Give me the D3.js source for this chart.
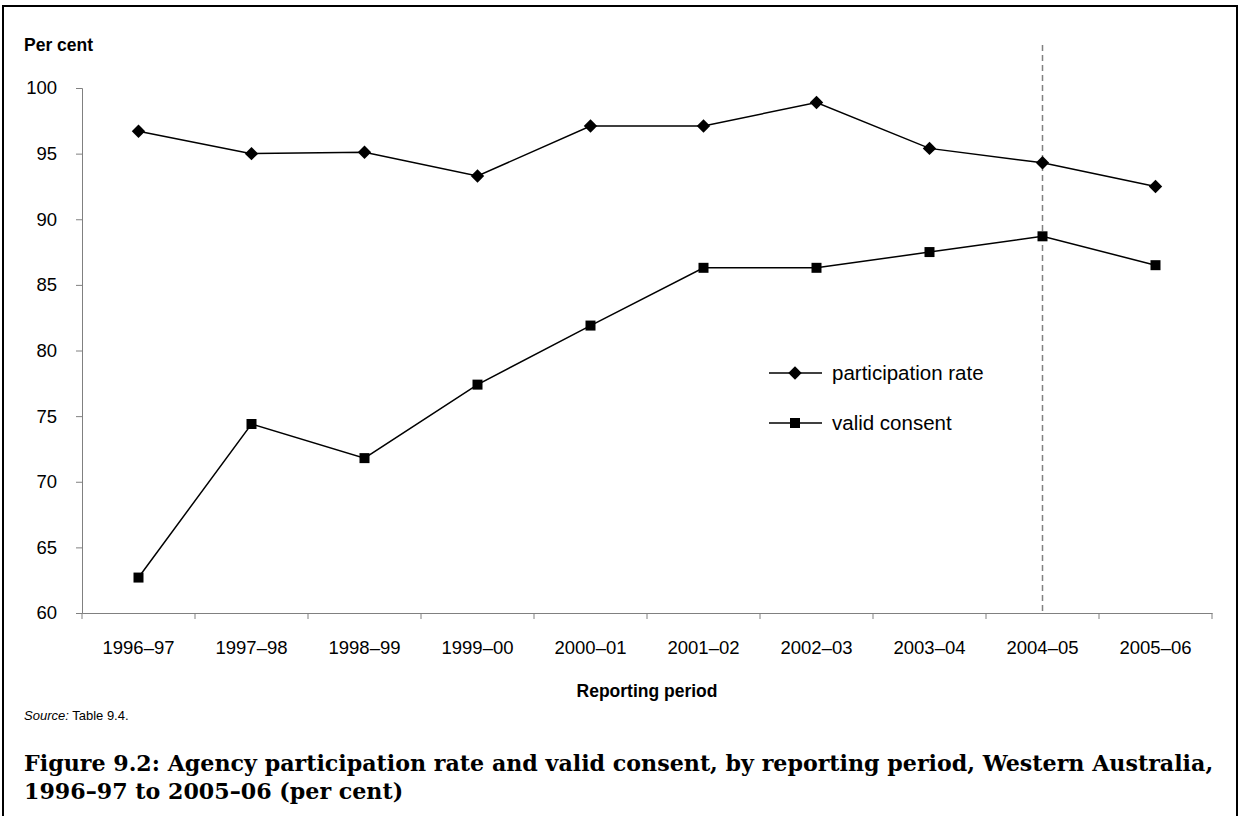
<!DOCTYPE html>
<html>
<head>
<meta charset="utf-8">
<script src="https://cdn.jsdelivr.net/npm/d3@7"></script>
<style>
  html, body { margin: 0; padding: 0; background: #fff; }
  svg { display: block; }
</style>
</head>
<body>
<script>
const categories = ["1996–97","1997–98","1998–99","1999–00","2000–01","2001–02","2002–03","2003–04","2004–05","2005–06"];
const participationRate = [96.7, 95.0, 95.1, 93.3, 97.1, 97.1, 98.9, 95.4, 94.3, 92.5];
const validConsent = [62.7, 74.4, 71.8, 77.4, 81.9, 86.3, 86.3, 87.5, 88.7, 86.5];
const yTicks = [60, 65, 70, 75, 80, 85, 90, 95, 100];
const markedPeriod = "2004–05";
const seriesNames = ["participation rate", "valid consent"];

const W = 1240, H = 816;
const margin = {left: 82, right: 28, top: 88, bottom: 816 - 613};

const svg = d3.select("body").append("svg").attr("width", W).attr("height", H);

// frame
svg.append("path")
  .attr("d", `M3,${H} V6 H1237 V${H}`)
  .attr("fill", "none").attr("stroke", "#000").attr("stroke-width", 2);

const x = d3.scaleBand().domain(categories).range([margin.left, W - margin.right]);
const y = d3.scaleLinear().domain([60, 100]).range([H - margin.bottom, margin.top]);

const font = "Arial, 'Liberation Sans', Helvetica, sans-serif";
const fs = 18.5;

// y axis
const yAxis = svg.append("g").attr("transform", `translate(${margin.left},0)`)
  .call(d3.axisLeft(y).tickValues(yTicks).tickSize(6).tickPadding(19).tickFormat(d3.format("d")));
yAxis.selectAll("path, line").attr("stroke", "#808080");
yAxis.selectAll("text").attr("font-family", font).attr("font-size", fs).attr("fill", "#000");

// x axis
const xAxis = svg.append("g").attr("transform", `translate(0,${y(60)})`)
  .call(d3.axisBottom(x).tickSize(0).tickPadding(28).tickSizeOuter(0));
xAxis.select(".domain").attr("stroke", "#808080");
xAxis.selectAll("text").attr("font-family", font).attr("font-size", fs).attr("fill", "#000");
// boundary ticks
svg.append("g").selectAll("line")
  .data(categories.map(c => x(c)).concat([x(categories[categories.length-1]) + x.bandwidth()]))
  .join("line")
  .attr("x1", d => d).attr("x2", d => d)
  .attr("y1", y(60)).attr("y2", y(60) + 6)
  .attr("stroke", "#808080");

// dashed marker
svg.append("line")
  .attr("x1", x(markedPeriod) + x.bandwidth()/2).attr("x2", x(markedPeriod) + x.bandwidth()/2)
  .attr("y1", 45).attr("y2", y(60))
  .attr("stroke", "#808080").attr("stroke-width", 1.5).attr("stroke-dasharray", "6,4");

const cx = c => x(c) + x.bandwidth()/2;
const line = d3.line().x((d, i) => cx(categories[i])).y(d => y(d));

svg.append("path").datum(participationRate).attr("d", line)
  .attr("fill", "none").attr("stroke", "#000").attr("stroke-width", 1.5);
svg.append("path").datum(validConsent).attr("d", line)
  .attr("fill", "none").attr("stroke", "#000").attr("stroke-width", 1.5);

const diamond = d3.symbol().type(d3.symbolSquare).size(90);
svg.append("g").selectAll("path").data(participationRate).join("path")
  .attr("d", diamond)
  .attr("transform", (d, i) => `translate(${cx(categories[i])},${y(d)}) rotate(45)`)
  .attr("fill", "#000");
const square = d3.symbol().type(d3.symbolSquare).size(100);
svg.append("g").selectAll("path").data(validConsent).join("path")
  .attr("d", square)
  .attr("transform", (d, i) => `translate(${cx(categories[i])},${y(d)})`)
  .attr("fill", "#000");

// legend
const legend = [
  {label: seriesNames[0], sym: "diamond", y: 373},
  {label: seriesNames[1], sym: "square", y: 423}
];
const lg = svg.append("g");
legend.forEach(l => {
  lg.append("line").attr("x1", 769).attr("x2", 822).attr("y1", l.y).attr("y2", l.y)
    .attr("stroke", "#000").attr("stroke-width", 1.5);
  lg.append("path")
    .attr("d", l.sym === "diamond" ? diamond : square)
    .attr("transform", `translate(795,${l.y})` + (l.sym === "diamond" ? " rotate(45)" : ""))
    .attr("fill", "#000");
  lg.append("text").attr("x", 832).attr("y", l.y).attr("dy", "0.35em")
    .attr("font-family", font).attr("font-size", 20.5).text(l.label);
});

// titles
svg.append("text").attr("x", 24).attr("y", 51)
  .attr("font-family", font).attr("font-size", 17.5).attr("font-weight", "bold").text("Per cent");
svg.append("text").attr("x", (margin.left + W - margin.right)/2).attr("y", 697)
  .attr("text-anchor", "middle")
  .attr("font-family", font).attr("font-size", 17.5).attr("font-weight", "bold").text("Reporting period");

const src = svg.append("text").attr("x", 24).attr("y", 720)
  .attr("font-family", font).attr("font-size", 13);
src.append("tspan").attr("font-style", "italic").text("Source:");
src.append("tspan").text(" Table 9.4.");

const tfont = "'Palatino Linotype', Palatino, 'Book Antiqua', 'DejaVu Serif', serif";
const t1 = svg.append("text").attr("x", 24).attr("y", 771)
  .attr("font-family", tfont).attr("font-size", 20).attr("font-weight", "bold")
  .text("Figure 9.2: Agency participation rate and valid consent, by reporting period, Western Australia,");
const t2 = svg.append("text").attr("x", 24).attr("y", 799)
  .attr("font-family", tfont).attr("font-size", 20).attr("font-weight", "bold")
  .text("1996–97 to 2005–06 (per cent)");
// fit title width to the frame like the reference
const len = t1.node().getComputedTextLength();
const size = Math.min(23, 20 * 1190 / len);
t1.attr("font-size", size);
t2.attr("font-size", size);
</script>
</body>
</html>
